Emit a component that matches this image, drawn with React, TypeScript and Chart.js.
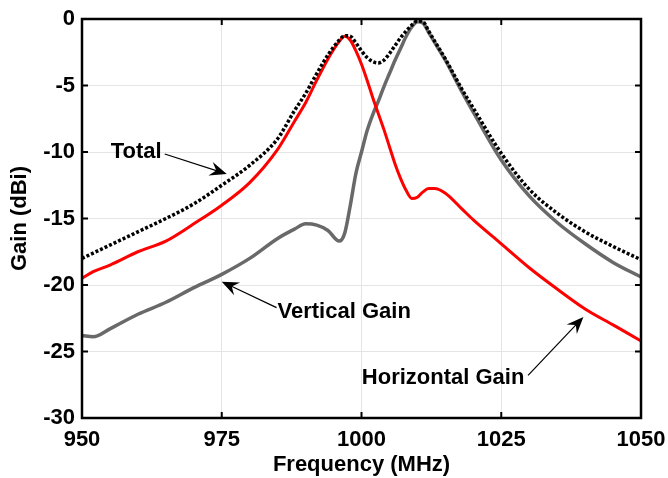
import React, { useEffect, useRef } from "react";
import { Chart, registerables } from "chart.js";
Chart.register(...registerables);

const frequencyMHz = [950, 952, 955, 960, 965, 970, 975, 980, 985, 988, 990, 992, 994, 996, 997, 998, 999, 1000, 1001, 1002, 1003, 1004, 1005, 1006, 1007, 1008, 1009, 1010, 1011, 1012, 1013, 1015, 1018, 1020, 1025, 1030, 1035, 1040, 1045, 1050];
const totalGain = [-18.0, -17.6, -17.0, -16.0, -15.0, -13.9, -12.5, -11.0, -9.0, -6.9, -5.6, -4.1, -2.7, -1.6, -1.25, -1.3, -1.8, -2.4, -2.9, -3.2, -3.3, -3.1, -2.6, -2.0, -1.4, -0.9, -0.45, -0.15, -0.2, -0.9, -1.6, -3.0, -5.3, -6.7, -10.1, -12.8, -14.6, -16.0, -17.1, -18.1];
const horizontalGain = [-19.5, -19.0, -18.5, -17.5, -16.7, -15.4, -14.0, -12.3, -9.8, -7.7, -6.3, -4.6, -3.0, -1.7, -1.3, -1.6, -2.4, -3.4, -4.6, -5.9, -7.1, -8.3, -9.6, -10.9, -12.0, -12.9, -13.5, -13.4, -13.0, -12.75, -12.75, -13.1, -14.3, -15.1, -16.9, -18.7, -20.3, -21.8, -23.0, -24.2];
const verticalGain = [-23.8, -23.9, -23.3, -22.2, -21.3, -20.2, -19.2, -18.0, -16.5, -15.8, -15.4, -15.5, -15.9, -16.7, -16.1, -14.0, -11.6, -10.0, -8.4, -7.2, -6.2, -5.1, -4.1, -3.1, -2.2, -1.3, -0.6, -0.2, -0.3, -1.0, -1.7, -3.1, -5.5, -7.0, -10.6, -13.3, -15.3, -16.9, -18.3, -19.4];
const xTicks = [950, 975, 1000, 1025, 1050];
const yTicks = [0, -5, -10, -15, -20, -25, -30];

const labelNotes = [
  { text: "Total", tx: 959.7, ty: -10.0, fromX: 964.8, fromY: -10.15, toX: 975.9, toY: -11.65 },
  { text: "Vertical Gain", tx: 996.9, ty: -22.0, fromX: 984.8, fromY: -21.7, toX: 975.0, toY: -19.75 },
  { text: "Horizontal Gain", tx: 1014.6, ty: -27.0, fromX: 1029.8, fromY: -26.8, toX: 1039.7, toY: -22.4 },
];

const FONT = "'Liberation Sans', Arial, sans-serif";

const framePlugin = {
  id: "frame",
  afterDraw(chart: any) {
    const { ctx, chartArea: a, scales } = chart;
    const xs = scales.x;
    const ys = scales.y;
    ctx.save();
    ctx.strokeStyle = "#000";
    ctx.lineWidth = 2;
    const tl = 6;
    ctx.beginPath();
    xTicks.forEach((v) => {
      const px = xs.getPixelForValue(v);
      ctx.moveTo(px, a.bottom);
      ctx.lineTo(px, a.bottom - tl);
      ctx.moveTo(px, a.top);
      ctx.lineTo(px, a.top + tl);
    });
    yTicks.forEach((v) => {
      const py = ys.getPixelForValue(v);
      ctx.moveTo(a.left, py);
      ctx.lineTo(a.left + tl, py);
      ctx.moveTo(a.right, py);
      ctx.lineTo(a.right - tl, py);
    });
    ctx.stroke();
    ctx.lineWidth = 2.5;
    ctx.strokeRect(a.left, a.top, a.right - a.left, a.bottom - a.top);

    // annotations
    ctx.fillStyle = "#000";
    ctx.font = `bold 22px ${FONT}`;
    ctx.textAlign = "center";
    ctx.textBaseline = "middle";
    labelNotes.forEach((n) => {
      ctx.fillText(n.text, xs.getPixelForValue(n.tx), ys.getPixelForValue(n.ty));
      const x0 = xs.getPixelForValue(n.fromX);
      const y0 = ys.getPixelForValue(n.fromY);
      const x1 = xs.getPixelForValue(n.toX);
      const y1 = ys.getPixelForValue(n.toY);
      const dx = x1 - x0;
      const dy = y1 - y0;
      const len = Math.hypot(dx, dy);
      const ux = dx / len;
      const uy = dy / len;
      const nx = -uy;
      const ny = ux;
      const L = 17;
      const W = 14;
      ctx.lineWidth = 1.2;
      ctx.beginPath();
      ctx.moveTo(x0, y0);
      ctx.lineTo(x1 - ux * L * 0.6, y1 - uy * L * 0.6);
      ctx.stroke();
      ctx.beginPath();
      ctx.moveTo(x1, y1);
      ctx.lineTo(x1 - ux * L + nx * W / 2, y1 - uy * L + ny * W / 2);
      ctx.lineTo(x1 - ux * L * 0.65, y1 - uy * L * 0.65);
      ctx.lineTo(x1 - ux * L - nx * W / 2, y1 - uy * L - ny * W / 2);
      ctx.closePath();
      ctx.fill();
    });
    ctx.restore();
  },
};

export default function App() {
  const ref = useRef<HTMLCanvasElement | null>(null);
  useEffect(() => {
    document.body.style.margin = "0";
    const canvas = ref.current!;
    const tickFont = { family: FONT, size: 22, weight: "bold" as const };
    const mk = (vals: number[]) => frequencyMHz.map((f, i) => ({ x: f, y: vals[i] }));
    const chart = new Chart(canvas, {
      type: "line",
      data: {
        datasets: [
          {
            label: "Total",
            data: mk(totalGain),
            borderColor: "#000000",
            borderWidth: 3.5,
            borderDash: [3, 2],
            pointRadius: 0,
            cubicInterpolationMode: "monotone",
            order: 0,
          },
          {
            label: "Horizontal Gain",
            data: mk(horizontalGain),
            borderColor: "#ff0000",
            borderWidth: 3,
            pointRadius: 0,
            cubicInterpolationMode: "monotone",
            order: 1,
          },
          {
            label: "Vertical Gain",
            data: mk(verticalGain),
            borderColor: "#696969",
            borderWidth: 3.5,
            pointRadius: 0,
            cubicInterpolationMode: "monotone",
            order: 2,
          },
        ],
      },
      options: {
        responsive: false,
        animation: false,
        layout: { padding: { top: 19, right: 27, bottom: 0, left: 0 } },
        plugins: { legend: { display: false }, tooltip: { enabled: false } },
        scales: {
          x: {
            type: "linear",
            min: 950,
            max: 1050,
            afterBuildTicks: (s: any) => {
              s.ticks = xTicks.map((v) => ({ value: v }));
            },
            afterFit: (s: any) => {
              s.height = 60;
              s.paddingLeft = 0;
              s.paddingRight = 0;
            },
            grid: { color: "#e4e4e4", lineWidth: 1, drawTicks: false },
            border: { display: false },
            ticks: {
              font: tickFont,
              color: "#000",
              padding: 9,
              maxRotation: 0,
              autoSkip: false,
              callback: (v: any) => String(v),
            },
            title: {
              display: true,
              text: "Frequency (MHz)",
              font: tickFont,
              color: "#000",
              padding: { top: 0, bottom: 0 },
            },
          },
          y: {
            type: "linear",
            min: -30,
            max: 0,
            afterBuildTicks: (s: any) => {
              s.ticks = yTicks.map((v) => ({ value: v }));
            },
            afterFit: (s: any) => {
              s.width = 82;
              s.paddingTop = 0;
              s.paddingBottom = 0;
            },
            grid: { color: "#e4e4e4", lineWidth: 1, drawTicks: false },
            border: { display: false },
            ticks: {
              font: tickFont,
              color: "#000",
              padding: 7,
              autoSkip: false,
              callback: (v: any) => String(v),
            },
            title: {
              display: true,
              text: "Gain (dBi)",
              font: tickFont,
              color: "#000",
              padding: { top: 7, bottom: 0 },
            },
          },
        },
      },
      plugins: [framePlugin],
    });
    return () => chart.destroy();
  }, []);
  return <canvas ref={ref} width={668} height={478} style={{ display: "block" }} />;
}
